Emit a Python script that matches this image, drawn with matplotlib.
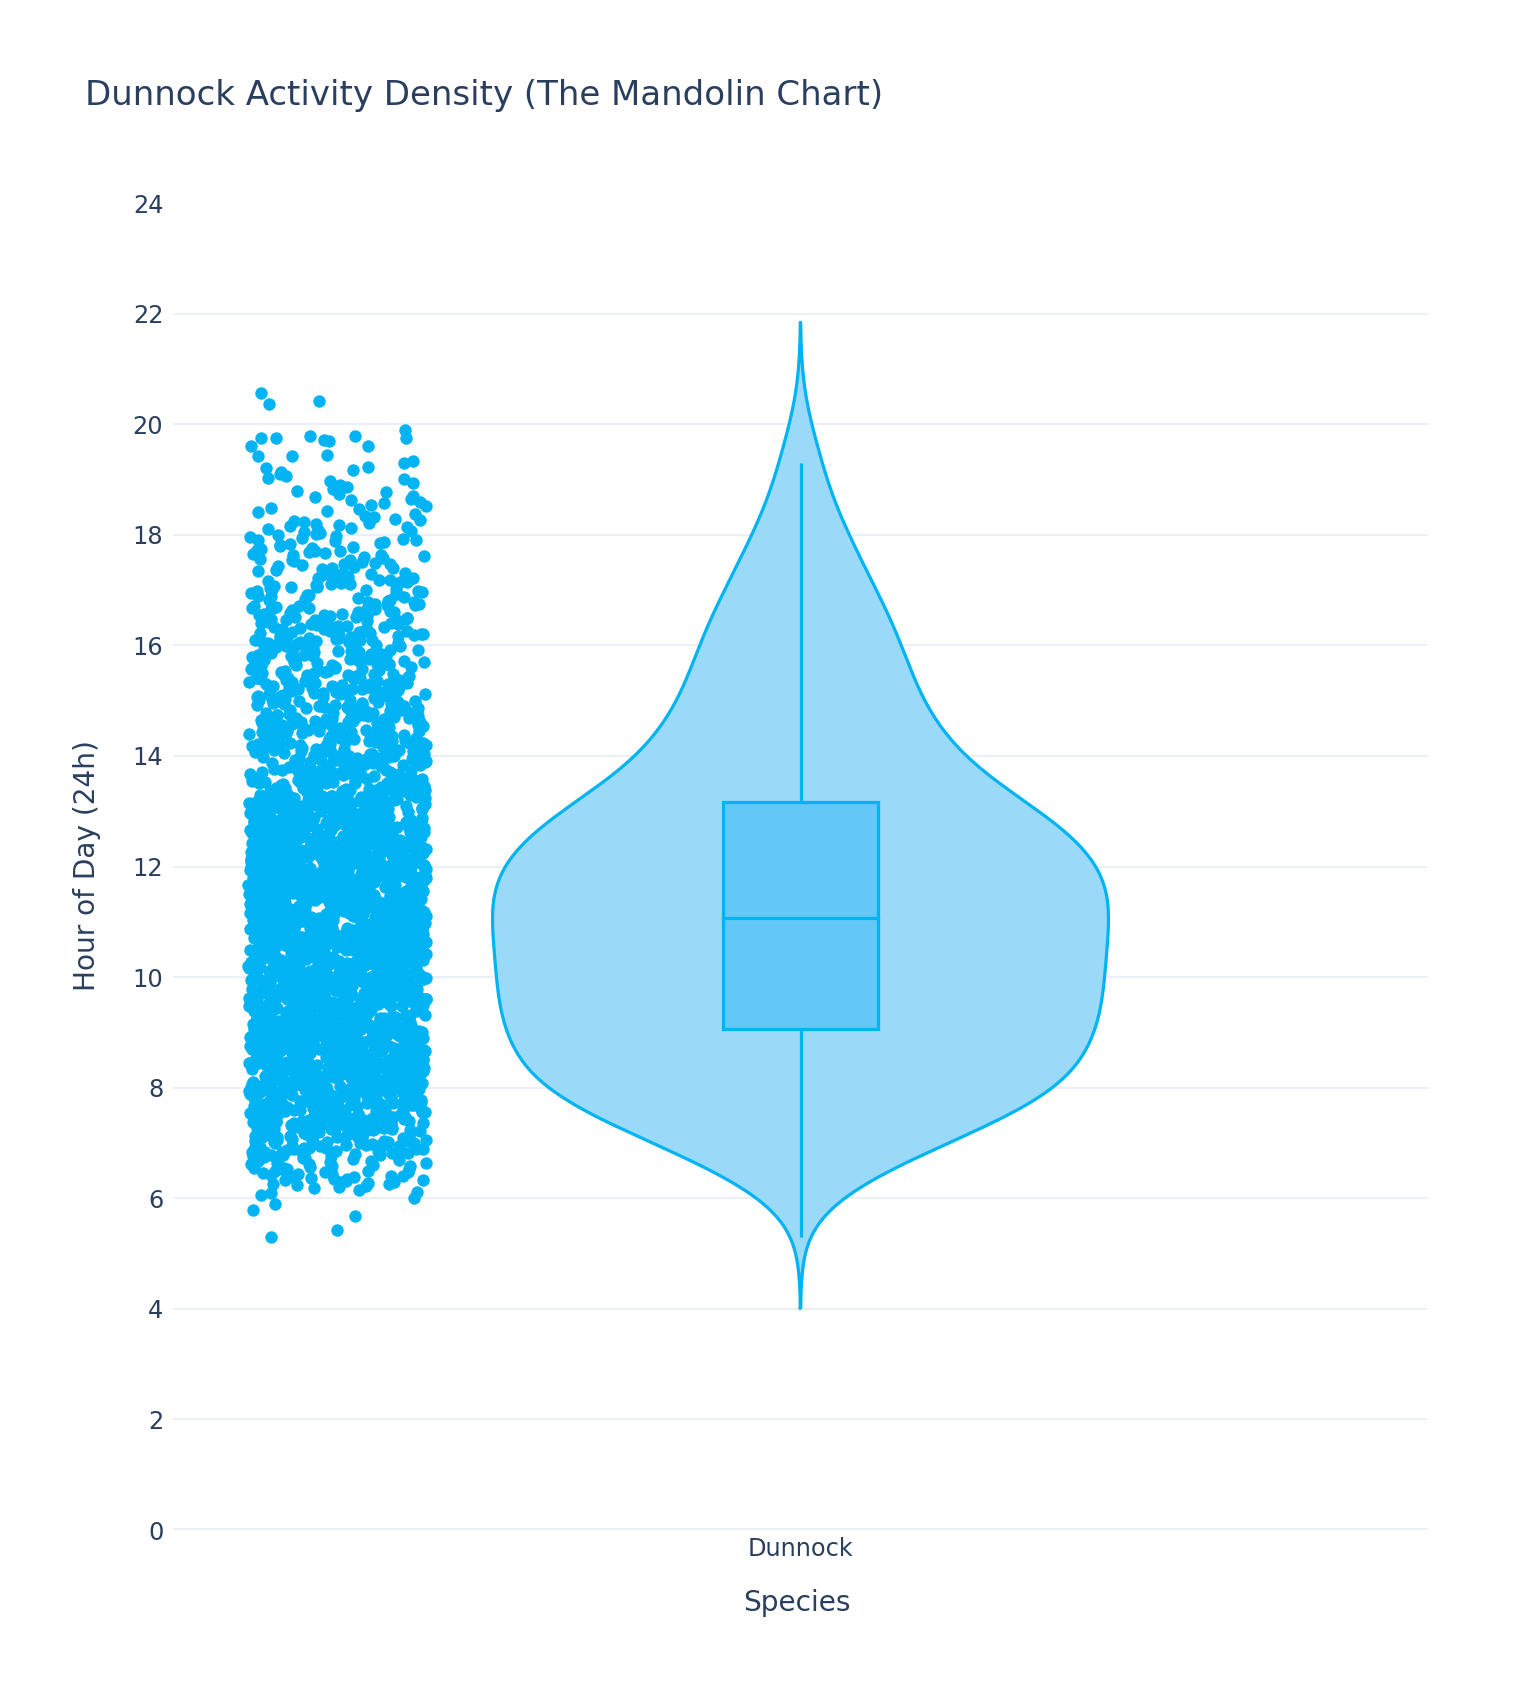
import numpy as np
import matplotlib
matplotlib.use("Agg")
import matplotlib.pyplot as plt

# ---------------- data ----------------
categories = ["Dunnock"]
low_tail_hours = [5.30, 5.43, 5.68, 5.78, 5.89, 6.00, 6.05, 6.10, 6.12, 6.15, 6.18, 6.20, 6.22, 6.24]
bin_centers = [6.5, 7.0, 7.5, 8.0, 8.5, 9.0, 9.5, 10.0, 10.5, 11.0, 11.5, 12.0, 12.5,
               13.0, 13.5, 14.0, 14.5, 15.0, 15.5, 16.0, 16.5, 17.0, 17.5, 18.0, 18.5, 19.0]
bin_counts = [45, 80, 129, 157, 162, 169, 174, 172, 174, 176, 178, 176, 160,
              143, 104, 90, 78, 67, 64, 57, 53, 43, 34, 29, 18, 15]
high_tail_hours = [19.30, 19.33, 19.43, 19.43, 19.45, 19.60, 19.61, 19.70, 19.72, 19.75,
                   19.75, 19.75, 19.78, 19.79, 19.89, 20.36, 20.41, 20.56]
y_ticks = [0, 2, 4, 6, 8, 10, 12, 14, 16, 18, 20, 22, 24]

BIN_WIDTH = 0.5

# build observations from bin counts (spread evenly inside each bin)
obs = list(low_tail_hours)
for c, n in zip(bin_centers, bin_counts):
    for k in range(n):
        obs.append(c - BIN_WIDTH / 2 + (k + 0.5) / n * BIN_WIDTH)
obs += list(high_tail_hours)
obs = np.array(obs)
N = len(obs)

# ---------------- styling ----------------
LINE = "#00B4F4"
VIOLIN_FILL = "#9AD9F7"
BOX_FILL = "#63C8F6"
TEXT = "#2a3f5f"
GRID = "#EBF0F8"
plt.rcParams["font.family"] = ["DejaVu Sans"]

W, H = 1518, 1694
fig = plt.figure(figsize=(W / 100, H / 100), dpi=100)
ax = fig.add_axes([173 / W, 1 - 1530 / H, (1428 - 173) / W, (1530 - 203) / H])

# ---------------- statistics (like plotly) ----------------
q1, med, q3 = np.percentile(obs, [25, 50, 75])
iqr = q3 - q1
upper_w = obs[obs <= q3 + 1.5 * iqr].max()
lower_w = obs[obs >= q1 - 1.5 * iqr].min()
bw = 1.059 * min(obs.std(ddof=1), iqr / 1.349) * N ** (-0.2)

ys = np.linspace(obs.min() - 2 * bw, obs.max() + 2 * bw, 600)
dens = np.exp(-0.5 * ((ys[:, None] - obs[None, :]) / bw) ** 2).sum(axis=1)
half_violin = 0.2454
hw = dens / dens.max() * half_violin

x0 = 0.0
LW = 2.3
# violin
ax.fill_betweenx(ys, x0 - hw, x0 + hw, color=VIOLIN_FILL, lw=0, zorder=2)
outline_x = np.concatenate([x0 - hw, (x0 + hw)[::-1], [x0 - hw[0]]])
outline_y = np.concatenate([ys, ys[::-1], [ys[0]]])
ax.plot(outline_x, outline_y, color=LINE, lw=LW, zorder=3, solid_joinstyle="round")

# inner box
box_hw = 0.062
ax.plot([x0, x0], [lower_w, q1], color=LINE, lw=LW, zorder=4, solid_capstyle="butt")
ax.plot([x0, x0], [q3, upper_w], color=LINE, lw=LW, zorder=4, solid_capstyle="butt")
ax.fill_between([x0 - box_hw, x0 + box_hw], q1, q3, color=BOX_FILL, lw=0, zorder=4)
ax.plot([x0 - box_hw, x0 + box_hw, x0 + box_hw, x0 - box_hw, x0 - box_hw],
        [q1, q1, q3, q3, q1], color=LINE, lw=LW, zorder=5, solid_joinstyle="miter")
ax.plot([x0 - box_hw, x0 + box_hw], [med, med], color=LINE, lw=LW, zorder=5)

# jittered points
pts_center = -0.369
jitter_half = 0.071
rng = np.random.default_rng(11)
jit = rng.uniform(-1, 1, N) * jitter_half
ax.scatter(pts_center + jit, obs, s=80, color=LINE, lw=0, zorder=6)

# ---------------- axes ----------------
ax.set_xlim(-0.5, 0.5)
ax.set_ylim(0, 24)
ax.set_yticks(y_ticks)
ax.set_yticklabels([str(t) for t in y_ticks])
ax.set_xticks([0])
ax.set_xticklabels(categories)
for s in ax.spines.values():
    s.set_visible(False)
ax.tick_params(axis="y", length=0, pad=7, labelsize=17.3, labelcolor=TEXT)
ax.tick_params(axis="x", length=0, pad=5, labelsize=17.3, labelcolor=TEXT)
ax.set_axisbelow(True)
ax.yaxis.grid(True, color=GRID, lw=1.4)
for t, v in zip(ax.yaxis.get_major_ticks(), y_ticks):
    if v in (0, 24):
        t.gridline.set_visible(False)
ax.axhline(0, color=GRID, lw=2.9, zorder=1)

fig.text(85 / W, 1 - 95 / H, "Dunnock Activity Density (The Mandolin Chart)",
         ha="left", va="center", fontsize=24.5, color=TEXT)
fig.text(87 / W, 1 - 866 / H, "Hour of Day (24h)", rotation=90,
         ha="center", va="center", fontsize=20.2, color=TEXT)
fig.text(797 / W, 1 - 1603 / H, "Species", ha="center", va="center",
         fontsize=20.2, color=TEXT)

fig.savefig("out.png", dpi=100, facecolor="white")
